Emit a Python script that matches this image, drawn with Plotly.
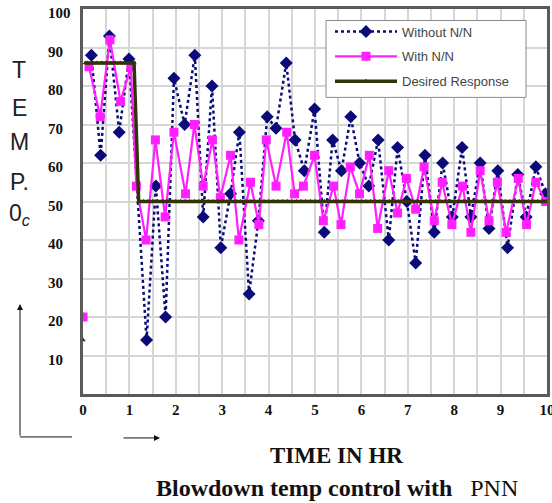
import plotly.graph_objects as go

# ---------------- data ----------------
without_x = [0.18, 0.38, 0.57, 0.78, 0.99, 1.37, 1.57, 1.78, 1.96, 2.19,
             2.41, 2.59, 2.78, 2.97, 3.18, 3.37, 3.58, 3.78, 3.97, 4.16,
             4.38, 4.57, 4.77, 4.99, 5.2, 5.38, 5.57, 5.77, 5.96, 6.16,
             6.36, 6.59, 6.78, 6.98, 7.17, 7.37, 7.57, 7.75, 7.96, 8.17,
             8.36, 8.56, 8.75, 8.94, 9.15, 9.37, 9.55, 9.76, 9.97]
without_y = [88, 62, 93, 68, 87, 14, 54, 20, 82, 70,
             88, 46, 80, 38, 52, 68, 26, 45, 72, 69,
             86, 66, 58, 74, 42, 66, 58, 72, 60, 54,
             66, 40, 64, 50, 34, 62, 42, 60, 46, 64,
             46, 60, 43, 58, 38, 57, 46, 59, 52]

with_x = [0.0, 0.05, 0.13, 0.37, 0.58, 0.81, 1.03, 1.15, 1.36, 1.56,
          1.77, 1.96, 2.21, 2.4, 2.59, 2.79, 2.96, 3.18, 3.36, 3.61,
          3.79, 3.95, 4.16, 4.39, 4.56, 4.75, 4.99, 5.18, 5.4, 5.56,
          5.76, 5.96, 6.17, 6.35, 6.59, 6.78, 6.97, 7.17, 7.35, 7.57,
          7.74, 7.95, 8.18, 8.36, 8.56, 8.75, 8.93, 9.12, 9.38, 9.56,
          9.76, 9.97]
with_y = [20, None, 85, 72, 92, 76, 85, 54, 40, 66,
          46, 68, 52, 70, 54, 66, 51, 62, 40, 55,
          44, 66, 54, 68, 52, 54, 62, 45, 54, 44,
          59, 52, 62, 43, 58, 47, 56, 48, 59, 45,
          55, 44, 54, 42, 58, 45, 55, 42, 56, 44,
          55, 50]

desired_x = [0.0, 0.03, 0.05, 0.1, 0.2, 0.3, 0.4, 0.5, 0.6, 0.7, 0.8, 0.9, 1.0, 1.1,
             1.2, 1.3, 1.4, 1.5, 1.6, 1.7, 1.8, 1.9,
             2.0, 2.1, 2.2, 2.3, 2.4, 2.5, 2.6, 2.7, 2.8, 2.9,
             3.0, 3.1, 3.2, 3.3, 3.4, 3.5, 3.6, 3.7, 3.8, 3.9,
             4.0, 4.1, 4.2, 4.3, 4.4, 4.5, 4.6, 4.7, 4.8, 4.9,
             5.0, 5.1, 5.2, 5.3, 5.4, 5.5, 5.6, 5.7, 5.8, 5.9,
             6.0, 6.1, 6.2, 6.3, 6.4, 6.5, 6.6, 6.7, 6.8, 6.9,
             7.0, 7.1, 7.2, 7.3, 7.4, 7.5, 7.6, 7.7, 7.8, 7.9,
             8.0, 8.1, 8.2, 8.3, 8.4, 8.5, 8.6, 8.7, 8.8, 8.9,
             9.0, 9.1, 9.2, 9.3, 9.4, 9.5, 9.6, 9.7, 9.8, 9.9,
             10.0]
desired_y = [14, None, 86, 86, 86, 86, 86, 86, 86, 86, 86, 86, 86, 86,
             50, 50, 50, 50, 50, 50, 50, 50,
             50, 50, 50, 50, 50, 50, 50, 50, 50, 50,
             50, 50, 50, 50, 50, 50, 50, 50, 50, 50,
             50, 50, 50, 50, 50, 50, 50, 50, 50, 50,
             50, 50, 50, 50, 50, 50, 50, 50, 50, 50,
             50, 50, 50, 50, 50, 50, 50, 50, 50, 50,
             50, 50, 50, 50, 50, 50, 50, 50, 50, 50,
             50, 50, 50, 50, 50, 50, 50, 50, 50, 50,
             50, 50, 50, 50, 50, 50, 50, 50, 50, 50,
             50]

x_ticks = [0, 1, 2, 3, 4, 5, 6, 7, 8, 9, 10]
y_ticks = [10, 20, 30, 40, 50, 60, 70, 80, 90, 100]
side_letters = ["T", "E", "M", "P.", "0<sub><i>c</i></sub>"]

# ---------------- figure ----------------
W, H = 552, 503
L, R, T, B = 83, 5, 8.5, 109
pw, ph = W - L - R, H - T - B


def px(xp):
    return (xp - L) / pw


def py(yp):
    return (H - B - yp) / ph


fig = go.Figure()
fig.add_trace(go.Scatter(
    x=without_x, y=without_y, name="Without N/N", mode="lines+markers",
    legendgroup="a",
    line=dict(color="#0a0a78", width=2.5, dash="dot"),
    marker=dict(symbol="diamond", size=10, color="#0a0a78"),
))
fig.add_trace(go.Scatter(
    x=with_x, y=with_y, name="With N/N", mode="lines+markers",
    legendgroup="b",
    line=dict(color="#ff1fff", width=2.2),
    marker=dict(symbol="square", size=9, color="#ff1fff"),
))
fig.add_trace(go.Scatter(
    x=desired_x, y=desired_y, name="Desired Response", mode="lines+markers",
    legendgroup="c",
    line=dict(color="#333308", width=3.5),
    marker=dict(symbol="triangle-up", size=5, color="#333308"),
))

grid = "#d6d6d6"
tick_font = dict(family="Liberation Serif", size=15, color="#111", weight="bold")
fig.update_xaxes(
    range=[0, 10], tickvals=x_ticks, showgrid=True, gridcolor=grid, gridwidth=2,
    minor=dict(dtick=0.5, showgrid=True, gridcolor=grid, gridwidth=2),
    showline=True, mirror=True, linecolor="#5a5a5a", linewidth=3,
    zeroline=False, ticks="", automargin=False,
    tickfont=tick_font, ticklabelstandoff=0, ticklabeloverflow="allow",
)
fig.update_yaxes(
    range=[0, 100], tickvals=y_ticks, showgrid=True, gridcolor=grid, gridwidth=2,
    showline=True, mirror=True, linecolor="#5a5a5a", linewidth=3,
    zeroline=False, ticks="", automargin=False, showticklabels=False,
)

annotations = []
# y tick labels (left aligned, as in the reference)
for v in y_ticks:
    annotations.append(dict(
        x=px(46), y=v, xref="paper", yref="y", text=str(v),
        xanchor="left", yanchor="middle", yshift=-4, showarrow=False,
        font=tick_font,
    ))
for txt, yy in zip(side_letters, [70, 108, 142, 182, 214]):
    annotations.append(dict(
        x=px(19), y=py(yy), xref="paper", yref="paper", text=txt,
        xanchor="center", yanchor="middle",
        showarrow=False, font=dict(family="Liberation Sans", size=23, color="#222"),
    ))
annotations.append(dict(
    x=px(336), y=py(456), xref="paper", yref="paper", text="<b>TIME IN HR</b>",
    xanchor="center", yanchor="middle",
    showarrow=False, font=dict(family="Liberation Serif", size=23, color="#111"),
))
annotations.append(dict(
    x=px(337), y=py(488), xref="paper", yref="paper",
    text="<b>Blowdown temp control with</b>\u00a0\u00a0\u00a0PNN",
    xanchor="center", yanchor="middle",
    showarrow=False, font=dict(family="Liberation Serif", size=24, color="#111"),
))
# vertical arrow
annotations.append(dict(
    x=px(20), y=py(304), xref="paper", yref="paper", text="", showarrow=True,
    ax=0, ay=133, arrowhead=2, arrowsize=1.2, arrowwidth=1, arrowcolor="#111",
))
# horizontal arrow
annotations.append(dict(
    x=px(160), y=py(438), xref="paper", yref="paper", text="", showarrow=True,
    ax=-38, ay=0, arrowhead=2, arrowsize=1.2, arrowwidth=1, arrowcolor="#111",
))

shapes = [
    dict(type="line", xref="paper", yref="paper", x0=px(20), x1=px(72),
         y0=py(437), y1=py(437), line=dict(color="#111", width=1)),
    dict(type="rect", xref="paper", yref="paper", x0=px(326), x1=px(526),
         y0=py(97), y1=py(20), line=dict(color="#8a8a8a", width=1),
         fillcolor="white", layer="above"),
]

fig.update_layout(
    width=W, height=H, autosize=False,
    margin=dict(l=L, r=R, t=T, b=B),
    paper_bgcolor="white", plot_bgcolor="white",
    showlegend=True,
    legend=dict(
        x=px(330), y=py(16), xanchor="left", yanchor="top",
        bgcolor="rgba(0,0,0,0)", borderwidth=0,
        font=dict(family="Liberation Sans", size=13, color="#444"),
        itemwidth=62, tracegroupgap=5,
    ),
    annotations=annotations,
    shapes=shapes,
)

fig.write_html(
    "out.html",
    config={"displayModeBar": False},
    post_script="document.body.style.margin='0';document.body.style.overflow='hidden';",
)
